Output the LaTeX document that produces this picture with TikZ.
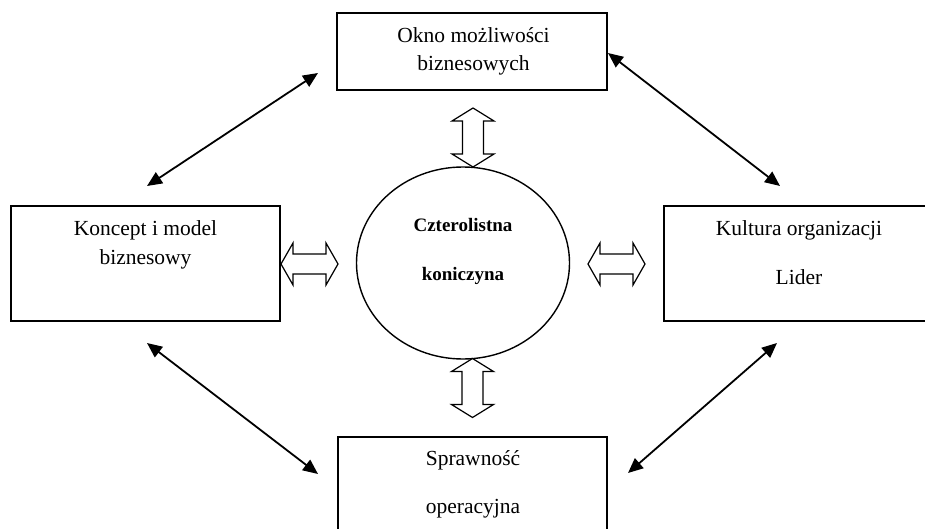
\documentclass[tikz,border=0pt]{standalone}
\usepackage{fontspec}
\setmainfont{Liberation Serif}
\usetikzlibrary{arrows.meta}
\tikzset{
  boxnode/.style={draw=black, line width=1.5pt, rectangle, inner sep=0pt},
  txt/.style={anchor=base, inner sep=0pt, font=\fontsize{21.5}{26}\selectfont},
  btxt/.style={anchor=base, inner sep=0pt, font=\fontsize{19}{23}\selectfont\bfseries},
  link/.style={line width=1.8pt, {Triangle[length=15pt,width=13pt]}-{Triangle[length=15pt,width=13pt]}},
  hollow/.style={draw=black, line width=1.2pt, fill=white}
}
\newcommand\hollowH[1]{%
  \draw[hollow] (#1) +(-28.5,0) -- +(-16.5,-21) -- +(-16.5,-10) -- +(16.5,-10) -- +(16.5,-21)
    -- +(28.5,0) -- +(16.5,21) -- +(16.5,10) -- +(-16.5,10) -- +(-16.5,21) -- cycle;}
\newcommand\hollowV[1]{%
  \draw[hollow] (#1) +(0,-29.5) -- +(21,-16.5) -- +(10.5,-16.5) -- +(10.5,16.5) -- +(21,16.5)
    -- +(0,29.5) -- +(-21,16.5) -- +(-10.5,16.5) -- +(-10.5,-16.5) -- +(-21,-16.5) -- cycle;}
\begin{document}
\begin{tikzpicture}[x=1pt,y=-1pt]
\useasboundingbox (0,0) rectangle (925,529);
\clip (0,0) rectangle (925,529);
\fill[white] (0,0) rectangle (925,529);

% boxes
\node[boxnode, minimum width=270pt, minimum height=77pt] (top) at (472,51.5) {};
\node[boxnode, minimum width=269pt, minimum height=115pt] (left) at (145.5,263.5) {};
\node[boxnode, minimum width=269pt, minimum height=115pt] (right) at (798.5,263.5) {};
\node[boxnode, minimum width=269pt, minimum height=110pt] (bottom) at (472.5,492) {};

% ellipse
\draw[line width=1.4pt] (463,263) ellipse [x radius=106.5, y radius=96];
\coordinate (center) at (463,263);

% texts
\node[txt] (t1) at (473.5,43) {Okno możliwości};
\node[txt] (t2) at (473.5,71) {biznesowych};
\node[txt] (l1) at (145.5,235) {Koncept i model};
\node[txt] (l2) at (145.5,264) {biznesowy};
\node[txt] (r1) at (799,235) {Kultura organizacji};
\node[txt] (r2) at (799,284) {Lider};
\node[txt] (b1) at (473,465) {Sprawność};
\node[txt] (b2) at (473,513) {operacyjna};
\node[btxt] (c1) at (463,232) {Czterolistna};
\node[btxt] (c2) at (463,280) {koniczyna};

% hollow double arrows
\coordinate (hl) at (309.5,264);
\coordinate (hr) at (616.5,264);
\coordinate (vt) at (473,137.5);
\coordinate (vb) at (472.5,388);
\hollowH{hl}
\hollowH{hr}
\hollowV{vt}
\hollowV{vb}

% diagonal connectors
\coordinate (a1) at (147,186);
\coordinate (a2) at (318,73);
\coordinate (b1e) at (608,53);
\coordinate (b2e) at (780,186);
\coordinate (c1e) at (147,343);
\coordinate (c2e) at (318,474);
\coordinate (d1e) at (777,343);
\coordinate (d2e) at (628,473);
\draw[link] (a1) -- (a2);
\draw[link] (b1e) -- (b2e);
\draw[link] (c1e) -- (c2e);
\draw[link] (d1e) -- (d2e);
\end{tikzpicture}
\end{document}
